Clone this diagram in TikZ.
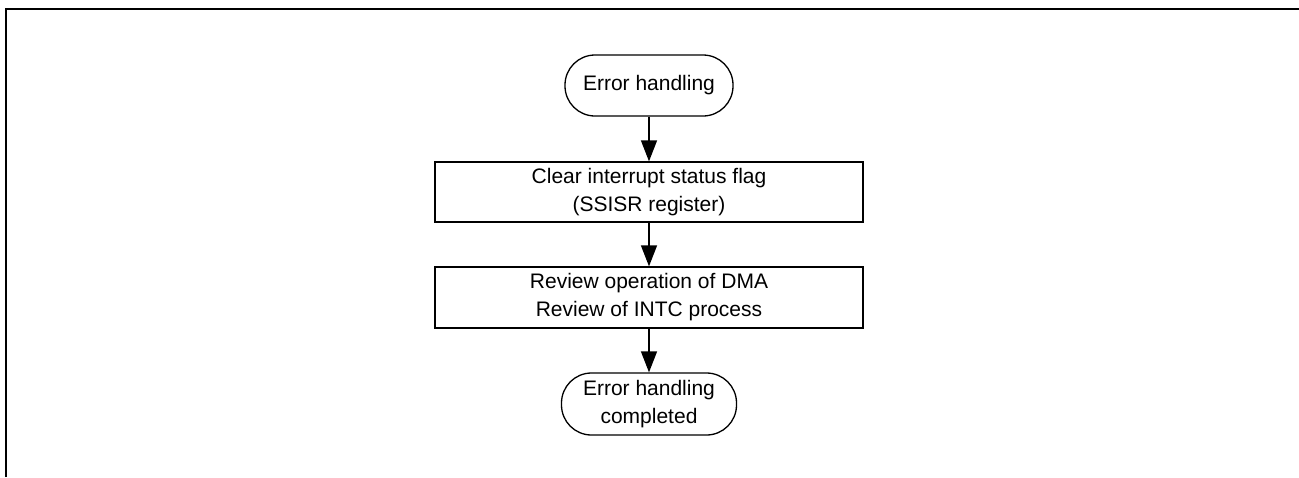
\documentclass[tikz,border=0pt]{standalone}
\usepackage{fontspec}
\setmainfont{Liberation Sans}
\usetikzlibrary{arrows.meta,positioning}

\begin{document}
\begin{tikzpicture}[
  x=1pt, y=-1pt,
  font=\fontsize{21}{28}\selectfont,
  every node/.style={align=center},
  term/.style={draw=black, line width=1.3pt, rounded corners=30pt, inner sep=0pt,
               minimum height=61pt},
  proc/.style={draw=black, line width=1.3pt, inner sep=0pt,
               minimum width=428pt, minimum height=60pt},
  fl/.style={-{Triangle[length=21pt,width=16pt]}, draw=black, line width=1.4pt},
]
\useasboundingbox (0,0) rectangle (1299,477);

% ---- frame ----
\draw[line width=2.2pt] (6,477) -- (6,9) -- (1299,9);

\node[term, minimum width=168pt] (start) at (649,85.5) {Error handling};
\node[proc] (clr) at (649,192)  {Clear interrupt status flag\\(SSISR register)};
\node[proc, minimum height=61pt] (rev) at (649,297.5)
  {Review operation of DMA\\Review of INTC process};
\node[term, minimum width=175pt, minimum height=62pt] (done) at (649,404)
  {Error handling\\completed};

\foreach \a/\b in {start/clr, clr/rev, rev/done}
  \draw[fl] (\a) -- (\b);

\end{tikzpicture}
\end{document}
